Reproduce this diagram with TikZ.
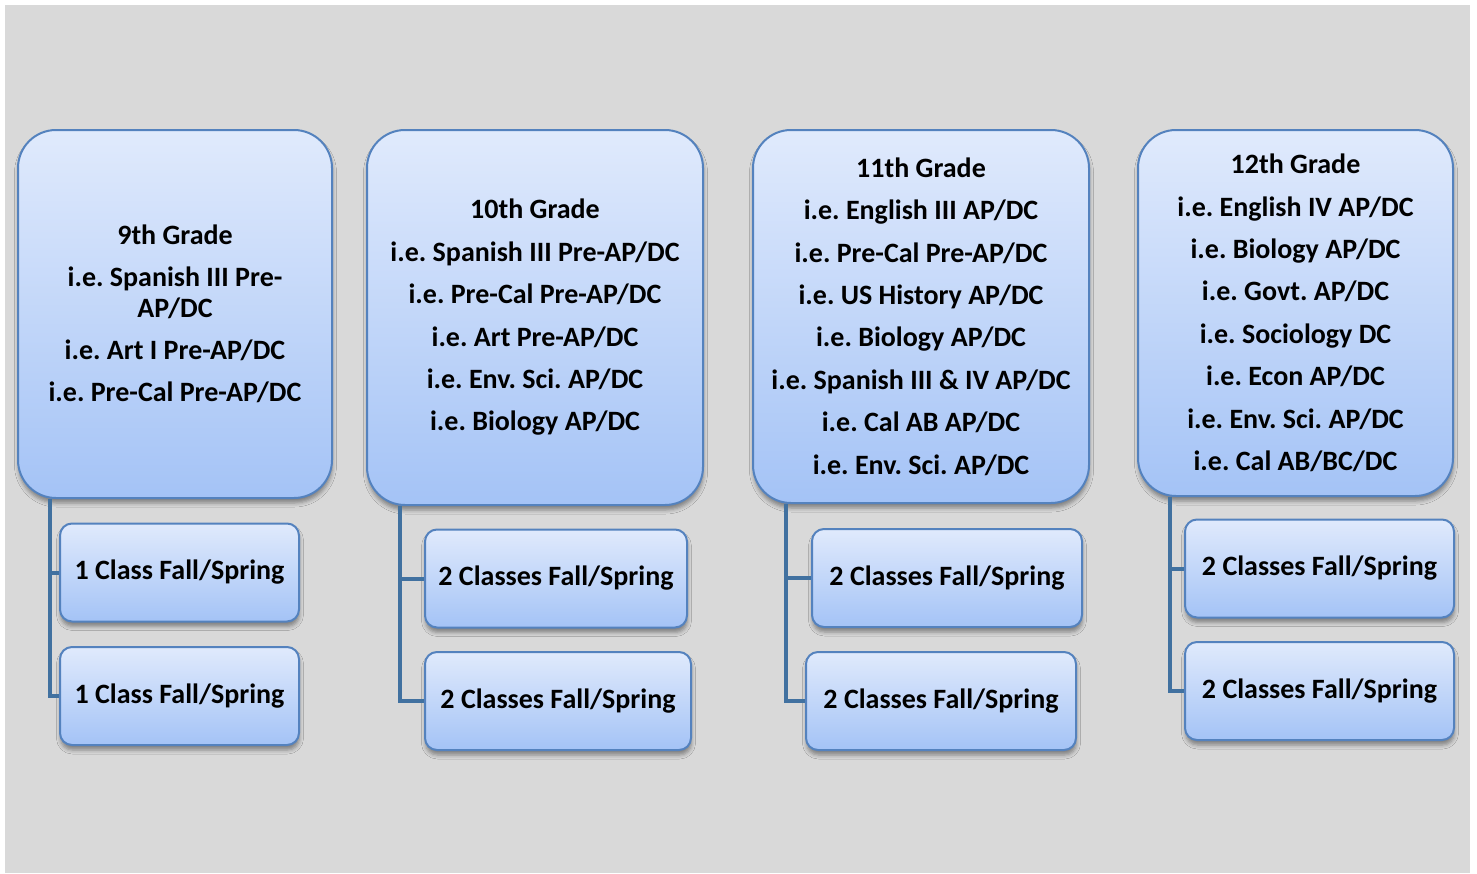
\documentclass[tikz,border=0pt]{standalone}
\usepackage{fontspec}
\setmainfont{Carlito}
\usetikzlibrary{shadows.blur}
\frenchspacing

\definecolor{boxline}{RGB}{84,130,190}
\definecolor{boxtop}{RGB}{224,234,252}
\definecolor{boxbot}{RGB}{164,195,246}
\definecolor{linkblue}{RGB}{65,113,160}
\definecolor{backgray}{RGB}{217,217,217}

\tikzset{
  gradebox/.style={draw=boxline, line width=2pt, rounded corners=38pt,
    top color=boxtop, bottom color=boxbot, align=center, inner sep=0pt,
    font=\fontsize{28}{42.4}\selectfont\bfseries,
    blur shadow={shadow xshift=0.5pt, shadow yshift=-5pt,
      shadow blur radius=4pt, shadow opacity=40}},
  classbox/.style={gradebox, rounded corners=12pt},
  link/.style={draw=linkblue, line width=4pt}
}

\begin{document}
\begin{tikzpicture}[x=1pt, y=-1pt]
    % --- page and backdrop (1 unit = 1 pixel of the slide) ---
    \fill[white] (0,0) rectangle (1477,873);
    \fill[backgray] (5,5) rectangle (1470,873);
    \useasboundingbox (0,0) rectangle (1477,873);

    % --- one box per grade ---
    \node[gradebox, minimum width=314, minimum height=368] (g9) at (175,314)
      {9th Grade\\ i.e. Spanish III Pre-\\[-12pt] AP/DC\\ i.e. Art I Pre-AP/DC\\
       i.e. Pre-Cal Pre-AP/DC};
    \node[gradebox, minimum width=336, minimum height=375] (g10) at (535,317.5)
      {10th Grade\\ i.e. Spanish III Pre-AP/DC\\ i.e. Pre-Cal Pre-AP/DC\\
       i.e. Art Pre-AP/DC\\ i.e. Env. Sci. AP/DC\\ i.e. Biology AP/DC};
    \node[gradebox, minimum width=336, minimum height=373] (g11) at (921,316.5)
      {11th Grade\\ i.e. English III AP/DC\\ i.e. Pre-Cal Pre-AP/DC\\
       i.e. US History AP/DC\\ i.e. Biology AP/DC\\ i.e. Spanish III \& IV AP/DC\\
       i.e. Cal AB AP/DC\\ i.e. Env. Sci. AP/DC};
    \node[gradebox, minimum width=315, minimum height=366] (g12) at (1295.5,313)
      {12th Grade\\ i.e. English IV AP/DC\\ i.e. Biology AP/DC\\
       i.e. Govt. AP/DC\\ i.e. Sociology DC\\ i.e. Econ AP/DC\\
       i.e. Env. Sci. AP/DC\\ i.e. Cal AB/BC/DC};

    % --- class load boxes: (grade, slot, x, y, width, text) ---
    \foreach \g/\s/\x/\y/\w/\t in {%
      9/a/179.5/572.5/239/1 Class, 9/b/179.5/696/239/1 Class,
      10/a/556/578.5/262/2 Classes, 10/b/558/701/266/2 Classes,
      11/a/947/578/270/2 Classes, 11/b/941/701/270/2 Classes,
      12/a/1319.5/568.5/269/2 Classes, 12/b/1319.5/691/269/2 Classes}{
      \node[classbox, minimum width=\w, minimum height=98] (c\g\s) at (\x,\y)
        {\t{} Fall/Spring};
    }

    % --- tree lines from each grade down to its class boxes ---
    \foreach \g/\tx in {9/50, 10/400, 11/786, 12/1170}{
      \coordinate (t\g) at (\tx,0);
      \draw[link] (g\g.south -| t\g) |- (c\g b.west);
      \draw[link] (t\g |- c\g a.west) -- (c\g a.west);
    }
  \end{tikzpicture}
\end{document}
